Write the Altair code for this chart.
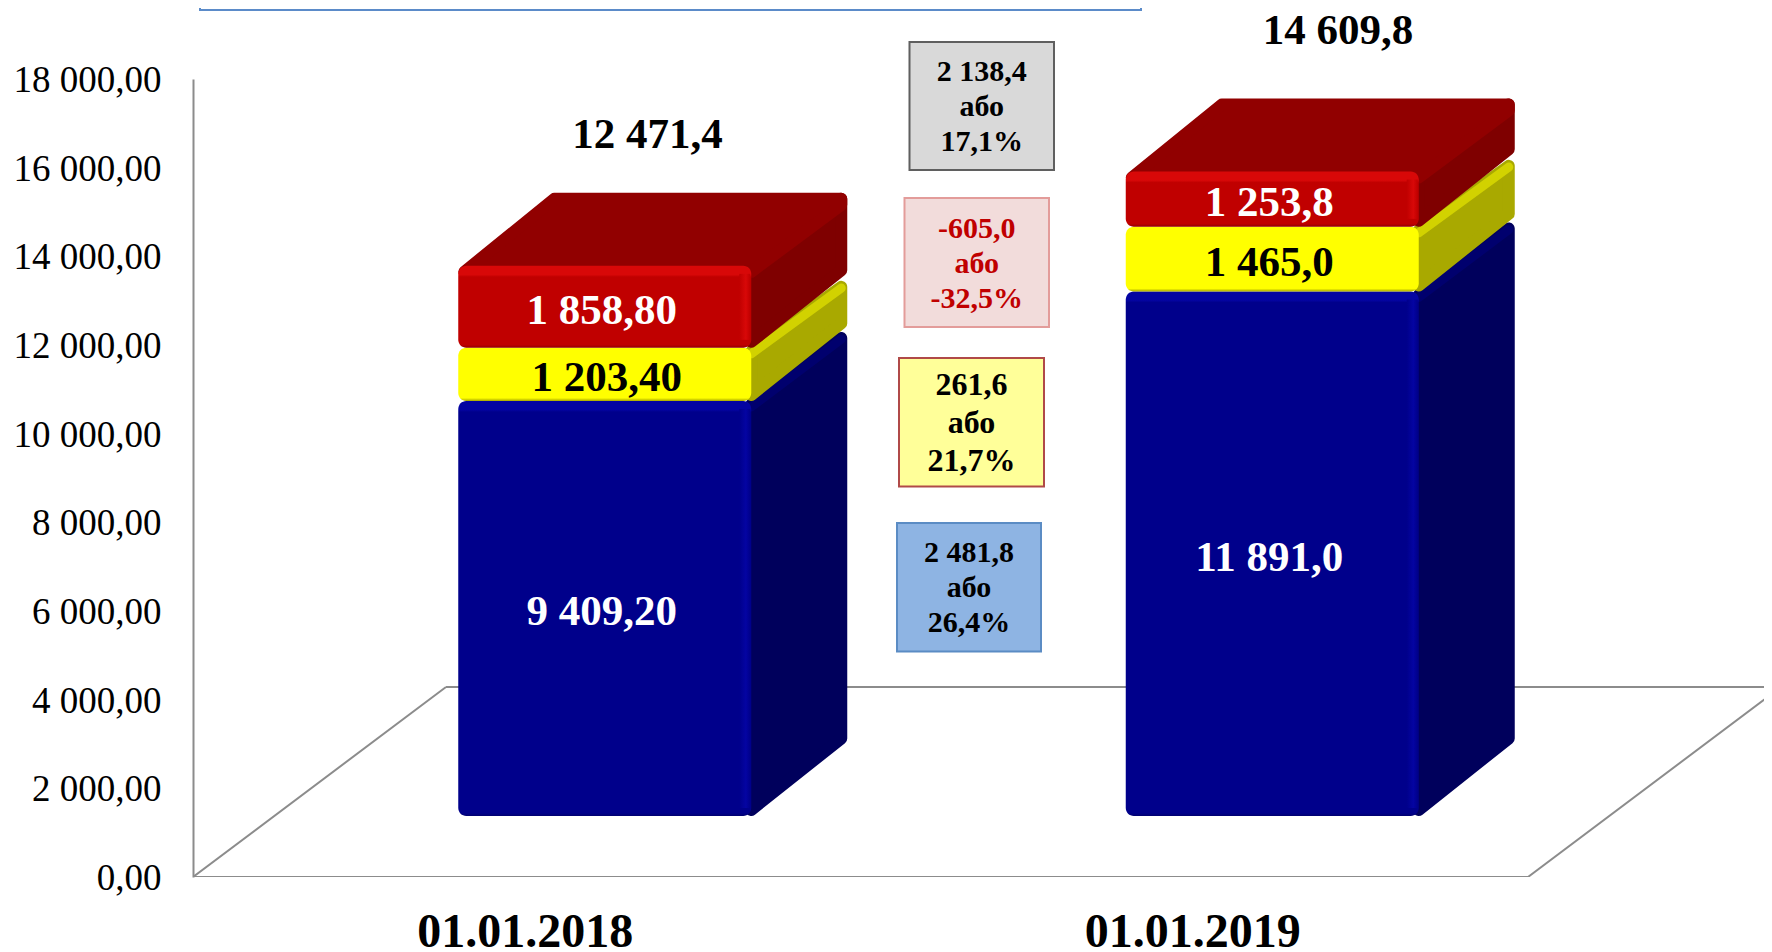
import altair as alt
import pandas as pd

# ---- data ----
categories = ["01.01.2018", "01.01.2019"]
blue_values = [9409.20, 11891.0]
yellow_values = [1203.40, 1465.0]
red_values = [1858.80, 1253.8]
blue_labels = ["9 409,20", "11 891,0"]
yellow_labels = ["1 203,40", "1 465,0"]
red_labels = ["1 858,80", "1 253,8"]
total_labels = ["12 471,4", "14 609,8"]
box_texts = ["2 138,4\nабо\n17,1%", "-605,0\nабо\n-32,5%", "261,6\nабо\n21,7%", "2 481,8\nабо\n26,4%"]
y_ticks = [0, 2000, 4000, 6000, 8000, 10000, 12000, 14000, 16000, 18000]

# ---- layout ----
FONT = "Liberation Serif"
LEFT, TOP, W, H = 193.0, 79.0, 1571, 798
FLOOR_W = 1335.0
XPX = FLOOR_W / 2
YPX = H / 18000.0
GREY = "#8C8C8C"


def xv(px):
    return (px - LEFT) / XPX - 0.5


def yv(px):
    return (TOP + H - px) / YPX


def dxv(px):
    return px / XPX


def dyv(px):
    return px / YPX


xscale = alt.Scale(domain=[-0.5, -0.5 + W / XPX], range=[0, W], nice=False, zero=False)
yscale = alt.Scale(domain=[0, 18000], range=[H, 0], nice=False, zero=False)
cat_expr = f"datum.value == 0 ? '{categories[0]}' : '{categories[1]}'"
x_axis = alt.Axis(
    values=[0, 1],
    labelExpr=cat_expr,
    domain=False,
    ticks=False,
    grid=False,
    title=None,
    labelFont=FONT,
    labelFontSize=48,
    labelFontWeight="bold",
    labelColor="#000000",
    labelPadding=31,
    labelBaseline="top",
    labelOverlap=False,
    labelFlush=False,
    labelLimit=500,
    labelOffset=-2,
)
y_axis = alt.Axis(
    values=y_ticks,
    labelExpr="replace(replace(format(datum.value, ',.2f'), ',', ' '), '.', ',')",
    domain=True,
    domainColor=GREY,
    domainWidth=2,
    ticks=False,
    grid=False,
    title=None,
    labelFont=FONT,
    labelFontSize=37,
    labelColor="#000000",
    labelPadding=32,
    labelOverlap=False,
    labelFlush=False,
    labelLimit=400,
    labelOffset=1.5,
)
X = alt.X("x:Q", scale=xscale, axis=x_axis)
Y = alt.Y("y:Q", scale=yscale, axis=y_axis)
X2 = alt.X2("x2:Q")
Y2 = alt.Y2("y2:Q")

layers = []

# ---- walls and floor ----
floor_depth_x, floor_depth_y = dxv(253), dyv(190)
floor = pd.DataFrame(
    {
        "x": [-0.5 + floor_depth_x, -0.5, 1.5, 1.5 + floor_depth_x],
        "y": [floor_depth_y, 0, 0, floor_depth_y],
        "o": [0, 1, 2, 3],
    }
)
layers.append(
    alt.Chart(floor).mark_line(color=GREY, strokeWidth=2, clip=True).encode(x=X, y=Y, order="o:Q")
)
back = pd.DataFrame(
    {"x": [-0.5 + floor_depth_x, xv(1772)], "y": [floor_depth_y, floor_depth_y]}
)
layers.append(alt.Chart(back).mark_line(color=GREY, strokeWidth=2).encode(x=X, y=Y))

# ---- top box, cut off by the page ----
top_box = pd.DataFrame(
    {
        "x": [xv(200), xv(200), xv(1141), xv(1141)],
        "y": [yv(-6), yv(10), yv(10), yv(-6)],
        "o": [0, 1, 2, 3],
    }
)
layers.append(
    alt.Chart(top_box).mark_line(color="#5B8BC9", strokeWidth=2).encode(x=X, y=Y, order="o:Q")
)

# ---- 3-D stacked bars ----
BASE = 61 / YPX
SHRINK = 0.995
FRONT_L, FRONT_W = -68.5 / XPX, 293 / XPX
DEPTH_X, DEPTH_Y = dxv(96), dyv(73)
R_IN = 6  # rounding of the side faces, px

STYLES = {
    "blue": dict(front="#00008B", bevel="#0404A2", shade="#000070", side="#00005C", band="#00006E", top="#00006E", notch=4),
    "yellow": dict(front="#FFFF00", bevel="#FFFF00", shade="#A8A800", side="#A9A900", band="#D2D200", top="#D2D200", notch=6),
    "red": dict(front="#C00000", bevel="#D80808", shade="#8E0000", side="#7F0000", band="#9A0000", top="#910000", notch=0),
}


def side_face(c, y0, y1, st):
    right = c + FRONT_L + FRONT_W
    rx, ry = dxv(R_IN), dyv(R_IN)
    notch = dyv(st["notch"])
    df = pd.DataFrame(
        {
            "x": [right, right + DEPTH_X - rx],
            "y": [y1 - ry * 0.6, y1 + DEPTH_Y - ry - notch],
            "y2": [y0 + ry, y0 + DEPTH_Y * 0.98 + ry],
        }
    )
    area = alt.Chart(df).mark_area(
        color=st["side"], stroke=st["side"], strokeWidth=2 * R_IN, strokeJoin="round", opacity=1
    ).encode(x=X, y=Y, y2=Y2)
    band_df = pd.DataFrame(
        {"x": [right, right + DEPTH_X - rx], "y": [y1 - ry, y1 + DEPTH_Y - ry * 1.2 - notch]}
    )
    band = alt.Chart(band_df).mark_line(color=st["band"], strokeWidth=9, strokeCap="round").encode(
        x=X, y=Y
    )
    return [area, band]


def top_face(c, y1, st):
    left = c + FRONT_L
    right = left + FRONT_W
    rx, ry = dxv(R_IN), dyv(R_IN)
    t = y1 + DEPTH_Y - ry
    df = pd.DataFrame(
        {
            "x": [left + rx, left + DEPTH_X, right, right + DEPTH_X - rx],
            "y": [y1 - ry, t, t, t],
            "y2": [y1 - ry, y1 - ry, y1 - ry, t - ry],
        }
    )
    return [
        alt.Chart(df)
        .mark_area(color=st["top"], stroke=st["top"], strokeWidth=2 * R_IN, strokeJoin="round")
        .encode(x=X, y=Y, y2=Y2)
    ]


def front_face(c, y0, y1, st):
    height = (y1 - y0) * YPX
    top = 11 / height
    bottom = 1 - 3 / height
    grad = alt.LinearGradient(
        gradient="linear",
        x1=0,
        y1=0,
        x2=0,
        y2=1,
        stops=[
            alt.GradientStop(offset=0, color=st["bevel"]),
            alt.GradientStop(offset=top * 0.8, color=st["bevel"]),
            alt.GradientStop(offset=top, color=st["front"]),
            alt.GradientStop(offset=bottom, color=st["front"]),
            alt.GradientStop(offset=1, color=st["shade"]),
        ],
    )
    left = c + FRONT_L
    right = left + FRONT_W
    df = pd.DataFrame({"x": [left], "x2": [right], "y": [y0], "y2": [y1]})
    face = alt.Chart(df).mark_rect(fill=grad, cornerRadius=8).encode(x=X, x2=X2, y=Y, y2=Y2)
    strip_grad = alt.LinearGradient(
        gradient="linear",
        x1=0,
        y1=0,
        x2=1,
        y2=0,
        stops=[
            alt.GradientStop(offset=0, color=st["front"]),
            alt.GradientStop(offset=0.6, color=st["bevel"]),
            alt.GradientStop(offset=1, color=st["front"]),
        ],
    )
    strip_df = pd.DataFrame(
        {
            "x": [right - dxv(12)],
            "x2": [right - dxv(1)],
            "y": [y0 + dyv(8)],
            "y2": [y1 - dyv(8)],
        }
    )
    strip = alt.Chart(strip_df).mark_rect(fill=strip_grad).encode(x=X, x2=X2, y=Y, y2=Y2)
    return [face, strip]


text_rows = []
for i in range(len(categories)):
    b0 = BASE
    b1 = b0 + blue_values[i] * SHRINK
    y1 = b1 + yellow_values[i] * SHRINK
    r1 = y1 + red_values[i] * SHRINK
    layers += side_face(i, b0, b1, STYLES["blue"])
    layers += front_face(i, b0, b1, STYLES["blue"])
    layers += side_face(i, b1, y1, STYLES["yellow"])
    layers += front_face(i, b1, y1, STYLES["yellow"])
    layers += side_face(i, y1, r1, STYLES["red"])
    layers += top_face(i, r1, STYLES["red"])
    layers += front_face(i, y1, r1, STYLES["red"])
    cx = i + FRONT_L + FRONT_W / 2 - dxv(3)
    text_rows.append((cx, (b0 + b1) / 2, blue_labels[i], "#FFFFFF"))
    shift = dxv(5) if i == 0 else 0
    text_rows.append((cx + shift, (b1 + y1) / 2, yellow_labels[i], "#000000"))
    text_rows.append((cx, (y1 + r1) / 2, red_labels[i], "#FFFFFF"))

labels = pd.DataFrame(text_rows, columns=["x", "y", "t", "c"])
layers.append(
    alt.Chart(labels)
    .mark_text(font=FONT, fontSize=43, fontWeight="bold", baseline="middle", align="center", dy=4)
    .encode(x=X, y=Y, text="t:N", color=alt.Color("c:N", scale=None, legend=None))
)

# ---- totals above the bars ----
total_df = pd.DataFrame(
    {"x": [xv(647.5), xv(1338)], "y": [yv(135), yv(31)], "t": total_labels}
)
layers.append(
    alt.Chart(total_df)
    .mark_text(font=FONT, fontSize=43, fontWeight="bold", baseline="middle", align="center")
    .encode(x=X, y=Y, text="t:N")
)

# ---- difference boxes ----
box_geometry = [(909.5, 1054, 42, 170), (904.5, 1049, 198, 327), (899, 1044, 358, 486.5), (897, 1041, 523, 651.5)]
box_fill = ["#D9D9D9", "#F2DCDB", "#FFFF99", "#8EB4E3"]
box_stroke = ["#5F5F5F", "#E39C9A", "#B04A48", "#5B8CC4"]
box_ink = ["#000000", "#C00000", "#000000", "#000000"]
box_font = [30, 30, 32, 30]
box_leading = [35, 35, 38, 35]
boxes = pd.DataFrame(
    {
        "x": [xv(g[0]) for g in box_geometry],
        "x2": [xv(g[1]) for g in box_geometry],
        "y": [yv(g[2]) for g in box_geometry],
        "y2": [yv(g[3]) for g in box_geometry],
        "f": box_fill,
        "s": box_stroke,
    }
)
layers.append(
    alt.Chart(boxes)
    .mark_rect(strokeWidth=2)
    .encode(
        x=X,
        x2=X2,
        y=Y,
        y2=Y2,
        fill=alt.Fill("f:N", scale=None, legend=None),
        stroke=alt.Stroke("s:N", scale=None, legend=None),
    )
)
for g, t, ink, fs, lead in zip(box_geometry, box_texts, box_ink, box_font, box_leading):
    one = pd.DataFrame({"x": [xv((g[0] + g[1]) / 2)], "y": [yv((g[2] + g[3]) / 2 + 1)], "t": [t]})
    layers.append(
        alt.Chart(one)
        .mark_text(
            font=FONT,
            fontSize=fs,
            fontWeight="bold",
            baseline="middle",
            align="center",
            lineBreak="\n",
            lineHeight=lead,
            dy=-lead,
            color=ink,
        )
        .encode(x=X, y=Y, text="t:N")
    )

chart = (
    alt.layer(*layers)
    .resolve_scale(x="shared", y="shared")
    .properties(
        width=W,
        height=H,
        background="#FFFFFF",
        padding={"left": 185, "top": 71, "right": 0, "bottom": 75},
        autosize=alt.AutoSizeParams(type="none"),
    )
    .configure_view(stroke=None)
)

chart.save("out.html", embed_options={"renderer": "svg", "actions": False})
